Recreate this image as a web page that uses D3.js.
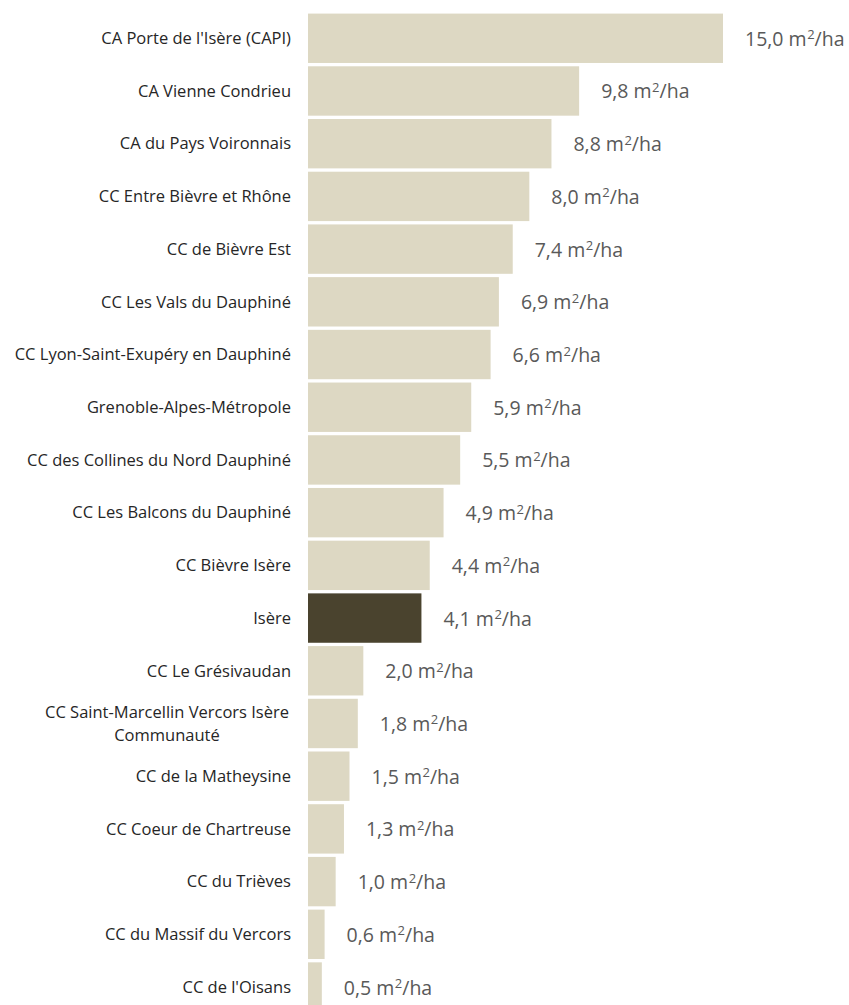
<!DOCTYPE html>
<html><head><meta charset="utf-8">
<script src="https://cdn.jsdelivr.net/npm/d3@7"></script>
<style>body{margin:0;background:#fff;} svg{display:block;}</style>
</head><body>
<svg id="c" width="849" height="1005"></svg>
<script>
const categories = [
  "CA Porte de l'Isère (CAPI)",
  "CA Vienne Condrieu",
  "CA du Pays Voironnais",
  "CC Entre Bièvre et Rhône",
  "CC de Bièvre Est",
  "CC Les Vals du Dauphiné",
  "CC Lyon-Saint-Exupéry en Dauphiné",
  "Grenoble-Alpes-Métropole",
  "CC des Collines du Nord Dauphiné",
  "CC Les Balcons du Dauphiné",
  "CC Bièvre Isère",
  "Isère",
  "CC Le Grésivaudan",
  "CC Saint-Marcellin Vercors Isère Communauté",
  "CC de la Matheysine",
  "CC Coeur de Chartreuse",
  "CC du Trièves",
  "CC du Massif du Vercors",
  "CC de l'Oisans"
];
const values = [15.0, 9.8, 8.8, 8.0, 7.4, 6.9, 6.6, 5.9, 5.5, 4.9, 4.4, 4.1, 2.0, 1.8, 1.5, 1.3, 1.0, 0.6, 0.5];
const highlight = ["Isère"];
const labelLines = {"CC Saint-Marcellin Vercors Isère Communauté": ["CC Saint-Marcellin Vercors Isère", "Communauté"]};

(function(){
const svg = d3.select("#c");
const x0 = 308, y0 = 12, step = 52.7;
const x = d3.scaleLinear().domain([0, 15]).range([x0, 723]);
const y = d3.scaleBand().domain(categories).range([y0, y0 + step * categories.length]).paddingInner(0.063).paddingOuter(0.03);

const num = v => d3.format(".1f")(v).replace(".", ",");

const vt = svg.selectAll("text.val").data(categories).join("text")
  .attr("class", "val")
  .attr("x", (d, i) => x(values[i]) + 22)
  .attr("y", d => y(d) + y.bandwidth() / 2 + 7.5)
  .attr("font-family", "'Open Sans', sans-serif")
  .attr("font-size", 19.5)
  .attr("fill", "#595959");
vt.append("tspan").text((d, i) => num(values[i]) + " m");
vt.append("tspan").attr("font-size", 13).attr("dy", -6.5).attr("dx", 0.5).text("2");
vt.append("tspan").attr("dy", 6.5).text("/ha");

svg.selectAll("rect.bar").data(categories).join("rect")
  .attr("class", "bar")
  .attr("x", x(0))
  .attr("y", d => y(d))
  .attr("width", (d, i) => x(values[i]) - x(0))
  .attr("height", y.bandwidth())
  .attr("fill", d => highlight.includes(d) ? "#4A432E" : "#DDD8C3");

const lab = svg.selectAll("text.cat").data(categories).join("text")
  .attr("class", "cat")
  .attr("font-family", "'Open Sans', sans-serif")
  .attr("font-size", 16.5)
  .attr("fill", "#262626");

lab.each(function(d) {
  const t = d3.select(this);
  const cy = y(d) + y.bandwidth() / 2;
  if (labelLines[d]) {
    const lines = labelLines[d];
    t.attr("text-anchor", "middle");
    lines.forEach((ln, k) => {
      t.append("tspan").attr("x", 167).attr("y", cy + (k - (lines.length - 1) / 2) * 23).attr("dy", "0.35em").text(ln);
    });
  } else {
    t.attr("text-anchor", "end").attr("x", 291).attr("y", cy).attr("dy", "0.35em").text(d);
  }
});
})();
</script>
</body></html>
